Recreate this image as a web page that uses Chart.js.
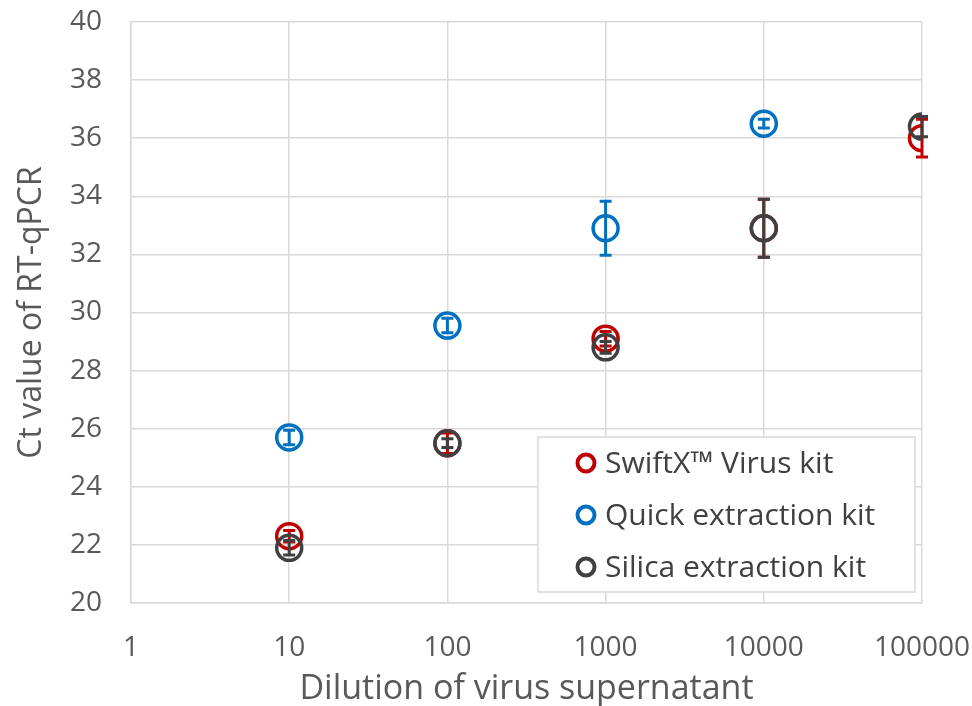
<!DOCTYPE html>
<html>
<head>
<meta charset="utf-8">
<script src="https://cdn.jsdelivr.net/npm/chart.js@4"></script>
<style>
  html, body { margin: 0; padding: 0; background: #fff; }
  #wrap { width: 972px; height: 706px; }
</style>
</head>
<body>
<div id="wrap"><canvas id="ctChart"></canvas></div>
<script>
const dilutions = [10, 100, 1000, 10000, 100000];
const xTicks = [1, 10, 100, 1000, 10000, 100000];

const swiftx = [22.3, 25.5, 29.1, 32.9, 36.0];
const swiftxErr = [0.2, 0.35, 0.25, 1.0, 0.65];
const quick = [25.7, 29.55, 32.9, 36.5, null];
const quickErr = [0.25, 0.25, 0.93, 0.15, null];
const silica = [21.9, 25.5, 28.8, 32.9, 36.4];
const silicaErr = [0.25, 0.15, 0.2, 1.0, 0.35];

const fontFamily = "'Open Sans', 'Noto Sans', sans-serif";
const textColor = '#595959';

function toPoints(vals) {
    return dilutions.map((x, i) => ({ x: x, y: vals[i] })).filter(p => p.y !== null);
}

// error bars drawn after each dataset so overlap order matches
const errorBars = {
    id: 'errorBars',
    afterDatasetDraw(chart, args) {
        const ds = chart.data.datasets[args.index];
        if (!ds.errors) return;
        const ctx = chart.ctx;
        const yScale = chart.scales.y;
        ctx.save();
        ctx.strokeStyle = ds.borderColor;
        ctx.lineWidth = 3;
        args.meta.data.forEach((pt, i) => {
            const e = ds.errors[i];
            if (!e) return;
            const v = ds.data[i].y;
            const top = yScale.getPixelForValue(v + e);
            const bot = yScale.getPixelForValue(v - e);
            ctx.beginPath();
            ctx.moveTo(pt.x, top);
            ctx.lineTo(pt.x, bot);
            ctx.moveTo(pt.x - 6, top);
            ctx.lineTo(pt.x + 6, top);
            ctx.moveTo(pt.x - 6, bot);
            ctx.lineTo(pt.x + 6, bot);
            ctx.stroke();
        });
        ctx.restore();
    }
};

// legend box inside the plot, bottom right
const boxLegend = {
    id: 'boxLegend',
    afterDraw(chart) {
        const ctx = chart.ctx;
        const area = chart.chartArea;
        const w = 377, h = 155;
        const x0 = area.right - 7 - w;
        const y0 = area.bottom - 11 - h;
        ctx.save();
        ctx.fillStyle = '#fff';
        ctx.fillRect(x0, y0, w, h);
        ctx.strokeStyle = '#d9d9d9';
        ctx.lineWidth = 1.5;
        ctx.strokeRect(x0, y0, w, h);
        ctx.font = '30px ' + fontFamily;
        ctx.textBaseline = 'middle';
        ctx.textAlign = 'left';
        chart.data.datasets.forEach((ds, i) => {
            const cy = y0 + 26 + i * 52;
            ctx.beginPath();
            ctx.arc(x0 + 48, cy, 8.5, 0, Math.PI * 2);
            ctx.strokeStyle = ds.borderColor;
            ctx.lineWidth = 4;
            ctx.stroke();
            ctx.fillStyle = '#404040';
            ctx.fillText(ds.label, x0 + 67, cy + 1);
        });
        ctx.restore();
    }
};

function series(label, vals, errs, color, order) {
    return {
        label: label,
        data: toPoints(vals),
        errors: errs.filter((e, i) => vals[i] !== null),
        borderColor: color,
        backgroundColor: 'rgba(0,0,0,0)',
        pointRadius: 12.5,
        pointHoverRadius: 12.5,
        pointBorderWidth: 3.5,
        showLine: false,
        order: order
    };
}

// keep tick labels from pushing the plot area in; layout padding sets it
function noOverhang(scale) {
    scale.paddingTop = 0;
    scale.paddingBottom = 0;
    scale.paddingLeft = 0;
    scale.paddingRight = 0;
}

const ctx = document.getElementById('ctChart').getContext('2d');
const ctChart = new Chart(ctx, {
    type: 'scatter',
    data: {
        datasets: [
            series('SwiftX\u2122 Virus kit', swiftx, swiftxErr, '#C00000', 2),
            series('Quick extraction kit', quick, quickErr, '#0070C0', 1),
            series('Silica extraction kit', silica, silicaErr, '#404040', 0)
        ]
    },
    options: {
        responsive: true,
        maintainAspectRatio: false,
        animation: false,
        layout: { padding: { left: 0, top: 22, right: 50, bottom: 0 } },
        plugins: {
            legend: { display: false },
            tooltip: { enabled: false }
        },
        scales: {
            x: {
                type: 'logarithmic',
                min: 1,
                max: 100000,
                afterBuildTicks: (axis) => { axis.ticks = xTicks.map(v => ({ value: v })); },
                afterFit: (scale) => { scale.height = 103; noOverhang(scale); },
                grid: { color: '#d9d9d9', lineWidth: 1.5, drawTicks: false },
                border: { color: '#d9d9d9', width: 1.5 },
                ticks: {
                    padding: 28,
                    color: textColor,
                    font: { family: fontFamily, size: 28 },
                    maxRotation: 0,
                    callback: (v) => String(v)
                },
                title: {
                    display: true,
                    text: 'Dilution of virus supernatant',
                    color: textColor,
                    font: { family: fontFamily, size: 34 },
                    padding: { top: 0, bottom: -4 }
                }
            },
            y: {
                min: 20,
                max: 40,
                afterFit: (scale) => { scale.width = 131; noOverhang(scale); },
                grid: { color: '#d9d9d9', lineWidth: 1.5, drawTicks: false },
                border: { color: '#d9d9d9', width: 1.5 },
                ticks: {
                    stepSize: 2,
                    padding: 29,
                    color: textColor,
                    font: { family: fontFamily, size: 28 }
                },
                title: {
                    display: true,
                    text: 'Ct value of RT-qPCR',
                    color: textColor,
                    font: { family: fontFamily, size: 32 },
                    padding: { top: 13, bottom: 0 }
                }
            }
        }
    },
    plugins: [errorBars, boxLegend]
});
</script>
</body>
</html>
